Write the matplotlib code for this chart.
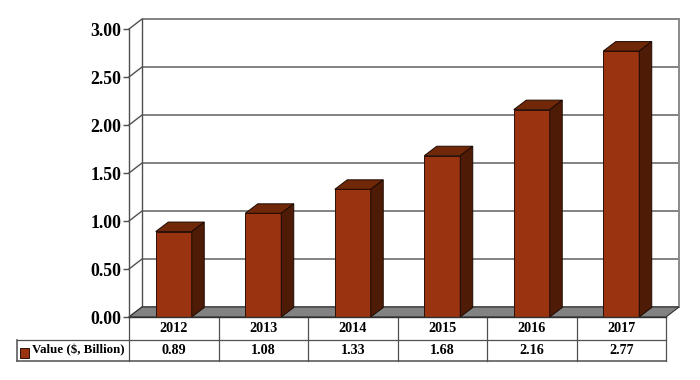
import numpy as np
import matplotlib.pyplot as plt
from matplotlib.patches import Polygon, Rectangle

plt.rcParams['font.family'] = ['Liberation Serif', 'DejaVu Serif']
plt.rcParams['font.weight'] = 'bold'

years = ['2012', '2013', '2014', '2015', '2016', '2017']
values = [0.89, 1.08, 1.33, 1.68, 2.16, 2.77]
yticks = [0, 0.5, 1, 1.5, 2, 2.5, 3]
series_name = 'Value ($, Billion)'

front_col = '#993310'
top_col = '#702808'
side_col = '#4e1c06'
floor_col = '#828282'
line_col = '#505050'

fig = plt.figure(figsize=(7, 3.8), dpi=100)
ax = fig.add_axes([129 / 700, 63 / 380, 537 / 700, 288 / 380])
ax.set_xlim(0, 6)
ax.set_ylim(0, 3)

# pixel sizes converted to data units
px = 6 / 537
py = 3 / 288
dx = 13 * px
dy = 10 * py

for s in ax.spines.values():
    s.set_visible(False)
ax.spines['left'].set_visible(True)
ax.spines['left'].set_color(line_col)
ax.spines['left'].set_linewidth(1.0)
ax.set_xticks([])
ax.set_yticks(yticks, [f'{v:.2f}' for v in yticks], fontsize=12.8, fontweight='bold')
ax.tick_params(axis='y', length=4.5, width=1.0, color=line_col, pad=1)

# floor and back walls
ax.add_patch(Polygon([(0, 0), (dx, dy), (6 + dx, dy), (6, 0)], closed=True, fc=floor_col,
                     ec='#303030', lw=0.8, zorder=1, clip_on=False))
for v in yticks:
    ax.plot([0, dx, 6 + dx], [v, v + dy, v + dy], color=line_col, lw=1.0, zorder=0.5, clip_on=False)
ax.plot([dx, dx], [dy, 3 + dy], color=line_col, lw=1.0, zorder=0.5, clip_on=False)
ax.plot([6 + dx, 6 + dx], [dy, 3 + dy], color='#8a8a8a', lw=1.4, zorder=0.5, clip_on=False)

# bars, depth is a bit less than the wall offset
x = np.arange(len(years)) + 0.5
w = 36 * 6 / 537
bx = 12.5 * px
by = 9.5 * py
ax.bar(x, values, width=w, color=front_col, edgecolor='#2a1005', linewidth=0.7, zorder=3, clip_on=False)
for xi, v in zip(x, values):
    l, r = xi - w / 2, xi + w / 2
    ax.add_patch(Polygon([(l, v), (l + bx, v + by), (r + bx, v + by), (r, v)], closed=True,
                         fc=top_col, ec='#1e0a02', lw=0.7, zorder=3, clip_on=False))
    ax.add_patch(Polygon([(r, 0), (r + bx, by), (r + bx, v + by), (r, v)], closed=True,
                         fc=side_col, ec='#1e0a02', lw=0.7, zorder=3, clip_on=False))

# data table under the plot
row1 = -23 * py
row2 = -43.5 * py
left = -112 * px
ax.plot([0, 6], [0, 0], color='#303030', lw=1.0, zorder=4, clip_on=False)
ax.plot([left, 6], [row1, row1], color=line_col, lw=0.9, clip_on=False)
ax.plot([left, 6], [row2, row2], color=line_col, lw=1.1, clip_on=False)
ax.plot([left, left], [row1, row2], color=line_col, lw=1.1, clip_on=False)
for i in range(len(years) + 1):
    ax.plot([i, i], [0, row2], color=line_col, lw=0.9, clip_on=False)
for xi, yr, v in zip(x, years, values):
    ax.text(xi, row1 / 2, yr, ha='center', va='center', fontsize=10.2, fontweight='bold')
    ax.text(xi, (row1 + row2) / 2, f'{v:.2f}', ha='center', va='center', fontsize=10.2, fontweight='bold')
ax.add_patch(Rectangle((-109 * px, -41 * py), 9 * px, 10 * py, fc=front_col, ec='#2a1005', lw=0.7, clip_on=False))
ax.text(-97 * px, (row1 + row2) / 2, series_name, ha='left', va='center', fontsize=9.3, fontweight='bold')

fig.savefig('out.png', dpi=100)
